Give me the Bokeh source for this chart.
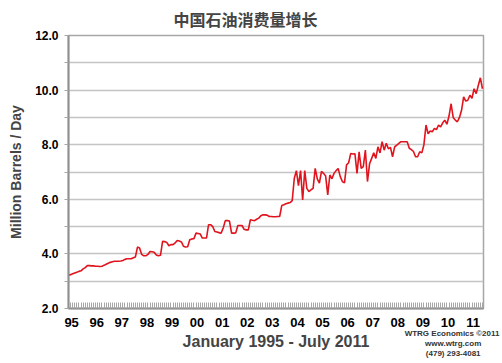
from bokeh.plotting import figure
from bokeh.models import FixedTicker, LinearAxis, Range1d
from bokeh.embed import file_html
from bokeh.resources import INLINE

# ---- data (monthly, Jan 1995 - Jul 2011), million barrels/day ----
y1995 = [3.22, 3.24, 3.27, 3.30, 3.33, 3.36, 3.38, 3.45, 3.50, 3.57, 3.57, 3.56]
y1996 = [3.56, 3.55, 3.55, 3.54, 3.55, 3.58, 3.62, 3.66, 3.69, 3.71, 3.73, 3.73]
y1997 = [3.73, 3.74, 3.76, 3.80, 3.82, 3.82, 3.82, 3.86, 3.89, 4.25, 4.22, 3.98]
y1998 = [3.93, 3.93, 3.98, 4.09, 4.08, 4.06, 3.96, 3.93, 3.95, 4.46, 4.45, 4.42]
y1999 = [4.30, 4.34, 4.34, 4.40, 4.49, 4.47, 4.44, 4.28, 4.25, 4.26, 4.52, 4.55]
y2000 = [4.56, 4.76, 4.75, 4.73, 4.58, 4.58, 4.58, 5.07, 5.07, 5.00, 4.82, 4.80]
y2001 = [4.78, 4.76, 4.95, 5.22, 5.22, 5.20, 4.76, 4.76, 4.77, 5.04, 5.04, 5.04]
y2002 = [4.90, 4.88, 4.88, 5.25, 5.23, 5.22, 5.27, 5.31, 5.40, 5.43, 5.43, 5.42]
y2003 = [5.37, 5.37, 5.36, 5.36, 5.37, 5.37, 5.77, 5.80, 5.84, 5.86, 5.88, 5.95]
y2004 = [6.77, 7.05, 6.50, 7.05, 5.98, 7.05, 6.40, 6.28, 6.35, 6.40, 7.13, 6.75]
y2005 = [6.59, 7.02, 6.95, 6.85, 6.16, 6.89, 6.75, 6.95, 7.05, 7.13, 6.83, 6.65]
y2006 = [6.60, 7.26, 7.34, 7.68, 7.66, 7.67, 6.95, 7.74, 7.13, 7.20, 7.80, 6.65]
y2007 = [7.30, 7.50, 7.70, 7.50, 7.92, 7.70, 8.11, 7.80, 8.05, 7.85, 7.90, 7.56]
y2008 = [7.92, 7.98, 8.05, 8.11, 8.11, 8.11, 8.11, 7.87, 7.82, 7.75, 7.56, 7.56]
y2009 = [7.74, 7.70, 8.00, 8.72, 8.40, 8.50, 8.47, 8.60, 8.55, 8.72, 8.65, 8.80]
y2010 = [8.90, 8.75, 9.05, 9.50, 9.00, 8.90, 8.84, 9.00, 9.26, 9.75, 9.60, 9.63]
y2011 = [9.81, 9.70, 10.05, 9.87, 10.17, 10.45, 10.05]

year_labels = ["95", "96", "97", "98", "99", "00", "01", "02", "03", "04",
               "05", "06", "07", "08", "09", "10", "11"]
y_ticks = [2, 3, 4, 5, 6, 7, 8, 9, 10, 11, 12]
y_tick_labels = {2: "2.0", 4: "4.0", 6: "6.0", 8: "8.0", 10: "10.0", 12: "12.0"}

title_text = "中国石油消费量增长"
x_title = "January 1995 - July 2011"
y_title = "Million Barrels / Day"
credit = ["WTRG Economics  ©2011", "www.wtrg.com", "(479) 293-4081"]

values = (y1995 + y1996 + y1997 + y1998 + y1999 + y2000 + y2001 + y2002 +
          y2003 + y2004 + y2005 + y2006 + y2007 + y2008 + y2009 + y2010 + y2011)
months = list(range(len(values)))

FONT = "Liberation Sans"
GRAY = "#a6a6a6"

p = figure(width=502, height=363, output_backend="svg", toolbar_location=None,
           x_range=Range1d(0, len(values) - 0.5), y_range=Range1d(2, 12),
           min_border_left=68, min_border_right=19, min_border_top=35,
           min_border_bottom=55, background_fill_color="white",
           border_fill_color="white")

p.line(months, values, line_color="#e0141e", line_width=1.6)

# title
p.title.text = title_text
p.title.text_font = "Noto Sans CJK SC"
p.title.text_font_size = "16px"
p.title.text_font_style = "bold"
p.title.align = "left"
p.title.offset = 105
p.title.standoff = 9

# outline
p.outline_line_color = GRAY
p.outline_line_width = 1.5

# y axis
p.yaxis.ticker = FixedTicker(ticks=y_ticks)
p.yaxis.major_label_overrides = {t: y_tick_labels.get(t, "") for t in y_ticks}
p.yaxis.minor_tick_line_color = None
p.yaxis.major_tick_in = 0
p.yaxis.major_tick_out = 4
p.yaxis.major_tick_line_color = GRAY
p.yaxis.axis_line_color = "#909090"
p.yaxis.axis_line_width = 2
p.yaxis.major_label_text_font = FONT
p.yaxis.major_label_text_font_style = "bold"
p.yaxis.major_label_text_font_size = "12px"
p.yaxis.major_label_text_color = "black"
p.yaxis.major_label_standoff = 6
p.yaxis.axis_label = y_title
p.yaxis.axis_label_text_font = FONT
p.yaxis.axis_label_text_font_style = "bold"
p.yaxis.axis_label_text_font_size = "14px"
p.yaxis.axis_label_standoff = 8

# x axis
label_pos = [12 * k + 1.5 for k in range(len(year_labels))]
p.xaxis.ticker = FixedTicker(ticks=label_pos, minor_ticks=months)
p.xaxis.major_label_overrides = {pos: lab for pos, lab in zip(label_pos, year_labels)}
p.xaxis.major_tick_in = 0
p.xaxis.major_tick_out = 0
p.xaxis.minor_tick_in = 6
p.xaxis.minor_tick_out = 0
p.xaxis.minor_tick_line_color = GRAY
p.xaxis.axis_line_color = "#909090"
p.xaxis.axis_line_width = 2
p.xaxis.major_label_text_font = FONT
p.xaxis.major_label_text_font_style = "bold"
p.xaxis.major_label_text_font_size = "13px"
p.xaxis.major_label_text_color = "black"
p.xaxis.major_label_standoff = 9
p.xaxis.axis_label = x_title
p.xaxis.axis_label_text_font = FONT
p.xaxis.axis_label_text_font_style = "bold"
p.xaxis.axis_label_text_font_size = "16px"
p.xaxis.axis_label_standoff = 3

# credit: a bare extra axis whose single tick label is the credit block,
# pulled upwards with a negative standoff so it takes no extra room
credit_pos = 184
ax2 = LinearAxis(ticker=FixedTicker(ticks=[credit_pos], minor_ticks=[]),
                 major_label_overrides={credit_pos: "\n".join(credit)},
                 axis_line_color=None, major_tick_line_color=None,
                 minor_tick_line_color=None, major_tick_in=0, major_tick_out=0,
                 major_label_standoff=-24,
                 major_label_text_font=FONT, major_label_text_font_size="8px",
                 major_label_text_font_style="bold",
                 major_label_text_line_height=1.15,
                 major_label_text_color="#333333")
p.add_layout(ax2, "below")

# grid
p.xgrid.grid_line_color = None
p.ygrid.grid_line_color = "#c4c4c4"
p.ygrid.grid_line_width = 1.5

open("out.html", "w").write(file_html(p, INLINE))
